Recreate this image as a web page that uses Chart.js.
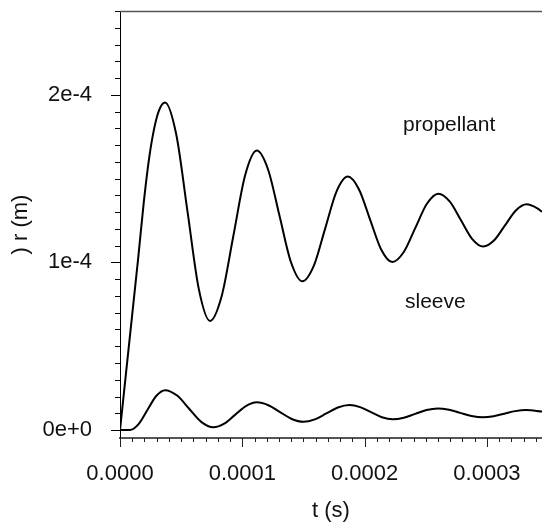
<!DOCTYPE html>
<html>
<head>
<meta charset="utf-8">
<script src="https://cdn.jsdelivr.net/npm/chart.js@4"></script>
<style>
  html, body { margin: 0; padding: 0; background: #fff; }
  #wrap { width: 542px; height: 525px; position: relative; }
</style>
</head>
<body>
<div id="wrap"><canvas id="radiusChart"></canvas></div>
<script>
// Propellant displacement: time in microseconds, radius change in units of 1e-4 m
const propTimeUs = [0, 5, 10, 15, 19.6, 24, 28, 32, 36.8,
    46.0, 55.2, 64.4, 73.6, 83.15, 92.7, 102.25, 111.8,
    121.1, 130.45, 139.8, 149.1, 158.4, 167.65, 176.9, 186.2,
    195.3, 204.4, 213.5, 222.6, 232.0, 241.45, 250.9, 260.3,
    269.5, 278.65, 287.8, 297.0, 305.9, 314.75, 323.6, 332.5,
    341.5, 345.0];
const propR = [0, 0.345, 0.69, 1.035, 1.37, 1.631, 1.801, 1.909, 1.954,
    1.763, 1.303, 0.842, 0.651, 0.800, 1.159, 1.518, 1.667,
    1.553, 1.277, 1.001, 0.887, 0.979, 1.200, 1.421, 1.512,
    1.437, 1.257, 1.077, 1.002, 1.062, 1.206, 1.350, 1.410,
    1.364, 1.253, 1.141, 1.095, 1.132, 1.221, 1.310, 1.347,
    1.321, 1.302];

// Sleeve displacement
const sleeveTimeUs = [0, 4, 8, 15.2, 22.4, 29.6, 36.8,
    46.7, 56.55, 66.4, 76.3, 85.2, 94.05, 102.9, 111.8,
    121.3, 130.85, 140.4, 149.9, 159.3, 168.7, 178.1, 187.5,
    196.35, 205.2, 214.05, 222.9, 232.1, 241.35, 250.6, 259.8,
    269.0, 278.2, 287.4, 296.6, 305.45, 314.3, 323.15, 332.0, 345.0];
const sleeveR = [0, 0, 0, 0.035, 0.119, 0.203, 0.238,
    0.2055, 0.127, 0.0485, 0.016, 0.038, 0.0905, 0.143, 0.165,
    0.148, 0.107, 0.066, 0.049, 0.0636, 0.099, 0.1344, 0.149,
    0.1366, 0.1065, 0.0764, 0.064, 0.0735, 0.0965, 0.1195, 0.129,
    0.1212, 0.1025, 0.0838, 0.076, 0.0823, 0.0975, 0.1127, 0.119, 0.110];

// Axis ticks and labels
const xMajorTicks = [0, 0.0001, 0.0002, 0.0003];
const xTickLabels = ['0.0000', '0.0001', '0.0002', '0.0003'];
const xMinorStep = 0.00001;
const yMajorTicks = [0, 0.0001, 0.0002];
const yTickLabels = ['0e+0', '1e-4', '2e-4'];
const yMinorStep = 0.00001;

const labelFont = '"Liberation Sans", Arial, sans-serif';

// Build point lists in SI units
function toPoints(timesUs, radii) {
    return timesUs.map((t, i) => ({ x: t * 1e-6, y: radii[i] * 1e-4 }));
}

function stepTicks(min, max, step) {
    const out = [];
    const n = Math.round((max - min) / step);
    for (let i = 0; i <= n; i++) out.push({ value: min + i * step });
    return out;
}

function findLabel(value, majors, labels) {
    const idx = majors.findIndex(m => Math.abs(m - value) < 1e-9);
    return idx >= 0 ? labels[idx] : '';
}

function isMajor(value, majors) {
    return majors.some(m => Math.abs(m - value) < 1e-9);
}

// Draws tick marks, top frame line and curve annotations
const axisDecor = {
    id: 'axisDecor',
    afterDraw(chart) {
        const ctx = chart.ctx;
        const area = chart.chartArea;
        const xs = chart.scales.x;
        const ys = chart.scales.y;
        ctx.save();

        // top frame line
        ctx.strokeStyle = '#555';
        ctx.lineWidth = 1.5;
        ctx.beginPath();
        ctx.moveTo(area.left, area.top + 0.5);
        ctx.lineTo(area.right, area.top + 0.5);
        ctx.stroke();

        // y ticks (pointing left)
        ctx.strokeStyle = '#000';
        ctx.lineWidth = 1;
        ys.ticks.forEach(t => {
            const py = Math.round(ys.getPixelForValue(t.value)) + 0.5;
            const len = isMajor(t.value, yMajorTicks) ? 9 : 5;
            ctx.beginPath();
            ctx.moveTo(area.left - len, py);
            ctx.lineTo(area.left, py);
            ctx.stroke();
        });

        // x ticks (pointing down)
        ctx.strokeStyle = '#222';
        xs.ticks.forEach(t => {
            const px = Math.round(xs.getPixelForValue(t.value)) + 0.5;
            const len = isMajor(t.value, xMajorTicks) ? 9 : 4;
            ctx.beginPath();
            ctx.moveTo(px, area.bottom);
            ctx.lineTo(px, area.bottom + len);
            ctx.stroke();
        });

        // curve names
        ctx.fillStyle = '#111';
        ctx.font = '21px ' + labelFont;
        ctx.textAlign = 'left';
        ctx.textBaseline = 'alphabetic';
        ctx.fillText('propellant', xs.getPixelForValue(0.0002314), ys.getPixelForValue(0.0001786));
        ctx.fillText('sleeve', xs.getPixelForValue(0.000233), ys.getPixelForValue(0.0000726));

        ctx.restore();
    }
};

const lineStyle = {
    borderColor: '#000',
    borderWidth: 2,
    pointRadius: 0,
    fill: false,
    cubicInterpolationMode: 'monotone'
};

const ctx = document.getElementById('radiusChart').getContext('2d');
const radiusChart = new Chart(ctx, {
    type: 'line',
    data: {
        datasets: [
            Object.assign({ label: 'propellant', data: toPoints(propTimeUs, propR) }, lineStyle),
            Object.assign({ label: 'sleeve', data: toPoints(sleeveTimeUs, sleeveR) }, lineStyle)
        ]
    },
    options: {
        responsive: true,
        maintainAspectRatio: false,
        animation: false,
        devicePixelRatio: 1,
        layout: { padding: { top: 11, right: 0, left: 0, bottom: 0 } },
        plugins: {
            legend: { display: false },
            tooltip: { enabled: false }
        },
        scales: {
            x: {
                type: 'linear',
                min: 0,
                max: 0.000345,
                afterBuildTicks: scale => { scale.ticks = stepTicks(0, 0.00034, xMinorStep); },
                afterFit: scale => { scale.height = 87; scale.paddingLeft = 0; scale.paddingRight = 0; },
                grid: { display: false, drawTicks: false },
                border: { display: true, color: '#555', width: 2 },
                ticks: {
                    autoSkip: false,
                    maxRotation: 0,
                    minRotation: 0,
                    padding: 23,
                    color: '#111',
                    font: { family: labelFont, size: 22 },
                    callback: value => findLabel(value, xMajorTicks, xTickLabels)
                },
                title: {
                    display: true,
                    text: 't (s)',
                    color: '#111',
                    font: { family: labelFont, size: 22 },
                    padding: { top: 0, bottom: 1 }
                }
            },
            y: {
                type: 'linear',
                min: -0.00000476,
                max: 0.00025,
                afterBuildTicks: scale => { scale.ticks = stepTicks(0, 0.00025, yMinorStep); },
                afterFit: scale => { scale.width = 120; scale.paddingTop = 0; scale.paddingBottom = 0; },
                grid: { display: false, drawTicks: false },
                border: { display: true, color: '#000', width: 1 },
                ticks: {
                    autoSkip: false,
                    padding: 28,
                    color: '#111',
                    font: { family: labelFont, size: 22 },
                    callback: value => findLabel(value, yMajorTicks, yTickLabels)
                },
                title: {
                    display: true,
                    text: ') r (m)',
                    color: '#111',
                    font: { family: labelFont, size: 22 },
                    padding: { top: 8, bottom: 0 }
                }
            }
        }
    },
    plugins: [axisDecor]
});
</script>
</body>
</html>
